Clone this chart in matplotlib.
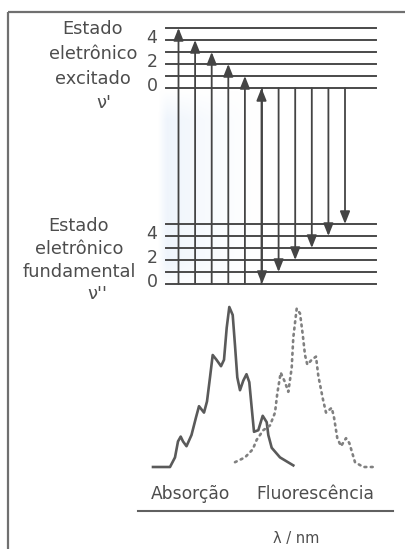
import numpy as np
import matplotlib
matplotlib.use("Agg")
import matplotlib.pyplot as plt

# Vibrational levels (quantum numbers) in each electronic state
excited_levels = [0, 1, 2, 3, 4, 5]
ground_levels = [0, 1, 2, 3, 4, 5]
level_labels = ["0", "2", "4"]
labelled_levels = [0, 2, 4]

# Transitions: absorption from v''=0 to v', emission from v'=0 to v''
absorption_targets = [5, 4, 3, 2, 1, 0]
emission_targets = [0, 1, 2, 3, 4, 5]

excited_text = ["Estado", "eletrônico", "excitado", "ν'"]
ground_text = ["Estado", "eletrônico", "fundamental", "ν''"]

# Spectra: position along wavelength axis (arb. units) and relative intensity
abs_wl = [153, 170, 175, 178, 180.7, 183, 186.5, 191.5, 196, 199, 201.5, 204,
          207, 210, 212.7, 216.5, 221, 224, 226.7, 229.3, 232.7, 235, 237.3,
          240, 243.3, 246.5, 249.3, 251.7, 254, 258.3, 262.7, 266.7, 268.3,
          271.7, 280, 293.3]
abs_int = [0.0, 0.0, 0.06, 0.16, 0.19, 0.16, 0.13, 0.20, 0.31, 0.38, 0.36, 0.34,
           0.41, 0.56, 0.70, 0.67, 0.63, 0.67, 0.87, 1.00, 0.95, 0.76, 0.56,
           0.48, 0.54, 0.58, 0.53, 0.37, 0.22, 0.23, 0.32, 0.28, 0.20,
           0.12, 0.06, 0.01]
flu_wl = [235, 245, 252.7, 256.7, 263.3, 270, 275, 277.3, 280.7, 285, 288.3,
          291.7, 293.3, 296.7, 300, 302.7, 305, 307.3, 311.7, 316, 318.3, 322.7,
          326, 331.7, 334, 337.3, 341, 346, 349.3, 355, 363.3, 373.3]
flu_int = [0.03, 0.06, 0.11, 0.17, 0.23, 0.26, 0.34, 0.46, 0.59, 0.53, 0.47,
           0.62, 0.81, 0.99, 0.96, 0.83, 0.70, 0.64, 0.67, 0.69, 0.57, 0.43,
           0.34, 0.37, 0.31, 0.18, 0.13, 0.18, 0.15, 0.03, 0.0, 0.0]
spectrum_labels = ["Absorção", "Fluorescência"]
axis_label = "λ / nm"

W, H = 406, 549
fig = plt.figure(figsize=(W / 100, H / 100), dpi=100)
ax = fig.add_axes([0, 0, 1, 1])
ax.set_xlim(0, W)
ax.set_ylim(H, 0)
ax.axis("off")

TEXT = "#4d4d4d"
LINE = "#4a4a4a"

# frame
ax.plot([8, W], [12, 12], color="#707070", lw=1.6, solid_capstyle="butt")
ax.plot([8, 8], [12, H], color="#707070", lw=1.6, solid_capstyle="butt")

# faint blue glow behind the absorption arrows
grad = np.zeros((60, 120, 4))
grad[..., 0] = 0.84
grad[..., 1] = 0.90
grad[..., 2] = 0.97
xs = np.linspace(0, 1, 120)
ys = np.linspace(0, 1, 60)
fx = np.clip(xs / 0.08, 0, 1) * (1 - xs) ** 1.5
fy = np.clip(ys / 0.15, 0, 1) * np.clip((1 - ys) / 0.15, 0, 1)
grad[..., 3] = 0.45 * fx[None, :] * fy[:, None]
ax.imshow(grad, extent=(158, 268, 292, 88), aspect="auto", zorder=0,
          interpolation="bilinear")

# level geometry
x0, x1 = 166, 376
exc_base, gnd_base, dy = 88, 284, 12


def y_exc(v):
    return exc_base - dy * v


def y_gnd(v):
    return gnd_base - dy * v


for v in excited_levels:
    ax.plot([x0, x1], [y_exc(v)] * 2, color=LINE, lw=1.4, zorder=2)
for v in ground_levels:
    ax.plot([x0, x1], [y_gnd(v)] * 2, color=LINE, lw=1.4, zorder=2)

arrow_kw = dict(arrowstyle="-|>,head_length=0.75,head_width=0.3",
                mutation_scale=10, shrinkA=0, shrinkB=0,
                color="#444444", lw=1.3)
abs_x0, emi_x0, step = 178.5, 262, 16.6
for i, vt in enumerate(absorption_targets):
    x = abs_x0 + step * i
    ax.annotate("", xy=(x, y_exc(vt)), xytext=(x, y_gnd(0)),
                arrowprops=arrow_kw, zorder=3)
for j, vt in enumerate(emission_targets):
    x = emi_x0 + step * j
    ax.annotate("", xy=(x, y_gnd(vt)), xytext=(x, y_exc(0)),
                arrowprops=arrow_kw, zorder=3)

# level numbers
for lab, v in zip(level_labels, labelled_levels):
    ax.text(152, y_exc(v) - 2, lab, fontsize=12.5, color=TEXT,
            ha="center", va="center")
    ax.text(152, y_gnd(v) - 2, lab, fontsize=12.5, color=TEXT,
            ha="center", va="center")

# state names
for k, (t, y) in enumerate(zip(excited_text, [29, 54, 79, 103])):
    xc = 104 if k == 3 else 93
    ax.text(xc, y, t, fontsize=12.8, color=TEXT, ha="center", va="center")
for k, (t, y) in enumerate(zip(ground_text, [226, 249, 272, 294])):
    xc = 97 if k == 3 else 79
    ax.text(xc, y, t, fontsize=12.8, color=TEXT, ha="center", va="center")

# spectra panel: intensity 0 at y=467 px, 1 at y=307 px; bottom spine at 511 px
left, right, top, bottom = 138, 393, 300, 511
sax = fig.add_axes([left / W, 1 - bottom / H, (right - left) / W, (bottom - top) / H])
sax.set_xlim(left, right)
sax.set_ylim(-(bottom - 467) / 160, (467 - top) / 160)
sax.patch.set_alpha(0)
for s in ["top", "right", "left"]:
    sax.spines[s].set_visible(False)
sax.spines["bottom"].set_color("#606060")
sax.spines["bottom"].set_linewidth(1.5)
sax.set_xticks([])
sax.set_yticks([])

sax.plot(abs_wl, abs_int, color="#5a5a5a", lw=1.9, solid_joinstyle="round")
sax.plot(flu_wl, flu_int, color="#808080", lw=1.9,
         linestyle=(0, (0.7, 1.7)), dash_capstyle="round")

ax.text(190, 494, spectrum_labels[0], fontsize=12.3, color=TEXT, ha="center", va="center")
ax.text(315, 494, spectrum_labels[1], fontsize=12.3, color=TEXT, ha="center", va="center")
ax.text(296, 539, axis_label, fontsize=10.5, color=TEXT, ha="center", va="center")

fig.savefig("out.png", dpi=100)
